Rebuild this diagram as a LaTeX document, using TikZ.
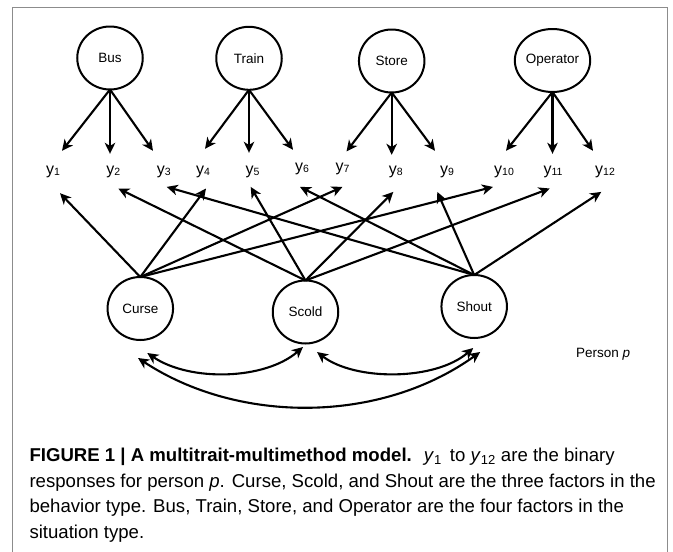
\documentclass[tikz,border=0pt]{standalone}
\usepackage{fontspec}
\setmainfont{Liberation Sans}
\usetikzlibrary{arrows.meta,shapes.geometric}
\newcommand\ysub[1]{y\raisebox{-1pt}{\fontsize{10.5}{12}\selectfont #1}}
\begin{document}
\begin{tikzpicture}[x=1pt,y=-1pt,
  lat/.style={draw, ellipse, line width=2pt, minimum width=65.5pt, minimum height=63pt,
    inner sep=0pt, outer sep=0pt, font=\fontsize{13.5}{16}\selectfont},
  ylab/.style={inner sep=0pt, minimum width=14pt, minimum height=42pt, font=\fontsize{16}{18}\selectfont},
  tipst/.tip={Stealth[length=11pt,width=10.5pt,inset=3.2pt]},
  arr/.style={line width=2.1pt, -tipst},
  darr/.style={line width=2.1pt, tipst-tipst},
  frame/.style={draw=black!45, line width=1.5pt},
  captext/.style={anchor=base west, inner sep=0pt, font=\fontsize{18.6}{25.5}\selectfont},
  note/.style={anchor=base west, inner sep=0pt, font=\fontsize{13.5}{16}\selectfont}
]
\useasboundingbox (0,0) rectangle (673,552);
\draw[frame] (12.7,552) -- (12.7,7.3) -- (667.5,7.3) -- (667.5,552);

% situation factors
\node[lat] (Bus) at (110,58) {Bus};
\node[lat] (Train) at (249,58.3) {Train};
\node[lat] (Store) at (391.7,61) {Store};
\node[lat] (Operator) at (552.5,60.5) {Operator};

% behavior factors
\node[lat] (Curse) at (140.3,308.5) {Curse};
\node[lat] (Scold) at (305.5,312) {Scold};
\node[lat] (Shout) at (474.2,306.5) {Shout};

% items
\node[ylab] (y1) at (53,172) {\ysub{1}};
\node[ylab] (y2) at (113.3,172) {\ysub{2}};
\node[ylab] (y3) at (163.7,172) {\ysub{3}};
\node[ylab] (y4) at (203,172) {\ysub{4}};
\node[ylab] (y5) at (252.5,172) {\ysub{5}};
\node[ylab] (y6) at (302,169) {\ysub{6}};
\node[ylab] (y7) at (342.5,169) {\ysub{7}};
\node[ylab] (y8) at (395.7,172) {\ysub{8}};
\node[ylab] (y9) at (447,172) {\ysub{9}};
\node[ylab] (y10) at (504,172) {\ysub{10}};
\node[ylab] (y11) at (553,172) {\ysub{11}};
\node[ylab] (y12) at (605,172) {\ysub{12}};

% situation loadings
\draw[arr] (Bus.south) -- ([xshift=9pt]y1.north);
\draw[arr] (Bus.south) -- ([xshift=-3.3pt,yshift=-3pt]y2.north);
\draw[arr] (Bus.south) -- ([xshift=-10.7pt]y3.north);
\draw[arr] (Train.south) -- ([xshift=2pt,yshift=2pt]y4.north);
\draw[arr] (Train.south) -- ([xshift=-3.5pt,yshift=-2pt]y5.north);
\draw[arr] (Train.south) -- ([xshift=-9pt,yshift=-2pt]y6.north);
\draw[arr] (Store.south) -- ([xshift=4pt,yshift=-3.7pt]y7.north);
\draw[arr] (Store.south) -- ([xshift=-4pt,yshift=-4pt]y8.north);
\draw[arr] (Store.south) -- ([xshift=-12pt]y9.north);
\draw[arr] (Operator.south) -- ([xshift=2pt]y10.north);
\draw[arr] (Operator.south) -- ([xshift=-0.5pt,yshift=-3pt]y11.north);
\draw[arr] (Operator.south) -- ([xshift=-12pt]y12.north);

% behavior loadings
\draw[arr] (Curse.north) -- ([xshift=7pt]y1.south);
\draw[arr] (Curse.north) -- ([xshift=3pt,yshift=4.7pt]y4.south);
\draw[arr] (Curse.north) -- ([yshift=3.3pt]y7.south);
\draw[arr] (Curse.north) -- ([xshift=-11pt,yshift=6.3pt]y10.south);
\draw[arr] (Scold.north) -- ([xshift=5pt,yshift=4.7pt]y2.south);
\draw[arr] (Scold.north) -- ([xshift=-1.8pt,yshift=6.3pt]y5.south);
\draw[arr] (Scold.north) -- ([xshift=-2.4pt,yshift=1.3pt]y8.south);
\draw[arr] (Scold.north) -- ([xshift=-3.3pt,yshift=4.7pt]y11.south);
\draw[arr] (Shout.north) -- ([xshift=3pt,yshift=6.3pt]y3.south);
\draw[arr] (Shout.north) -- ([xshift=-2pt,yshift=3.3pt]y6.south);
\draw[arr] (Shout.north) -- ([xshift=-9.7pt,yshift=1.3pt]y9.south);
\draw[arr] (Shout.north) -- ([xshift=-3.7pt,yshift=1.3pt]y12.south);

% covariances
\draw[darr] ([xshift=7pt,yshift=-13pt]Curse.south) .. controls (190,382) and (265,380) .. ([xshift=-2.5pt,yshift=-3.5pt]Scold.south);
\draw[darr] ([xshift=11.5pt,yshift=-8.5pt]Scold.south) .. controls (355,381) and (435,381) .. ([xshift=-1pt,yshift=-10pt]Shout.south);
\draw[darr] ([xshift=-2.3pt,yshift=-18pt]Curse.south) .. controls (238,424) and (380,424) .. ([xshift=6pt,yshift=-14pt]Shout.south);

\node[note] (person) at (576,357) {Person \textit{p}};

% caption
\node[captext] (cap1) at (29.3,461.7) {\textbf{FIGURE 1 | A multitrait-multimethod model.}\hspace{5pt} \textit{y}\textsubscript{1}\hspace{3pt} to \textit{y}\textsubscript{12} are the binary};
\node[captext] (cap2) at (29.3,487.2) {responses for person \textit{p}. Curse, Scold, and Shout are the three factors in the};
\node[captext] (cap3) at (29.3,512.7) {behavior type. Bus, Train, Store, and Operator are the four factors in the};
\node[captext] (cap4) at (29.3,538.2) {situation type.};
\end{tikzpicture}
\end{document}
